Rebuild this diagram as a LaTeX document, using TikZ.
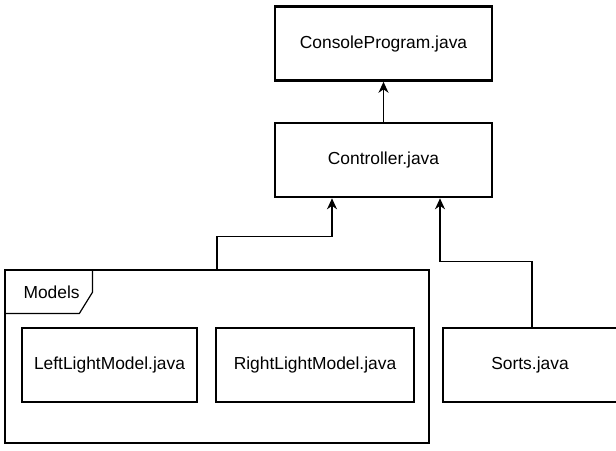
\documentclass[tikz,border=0pt]{standalone}
\usepackage{fontspec}
\setmainfont{Liberation Sans}
\usetikzlibrary{arrows.meta}
\begin{document}
\begin{tikzpicture}[x=1pt,y=-1pt,
  cls/.style={draw,line width=2.6pt,minimum height=74pt,inner sep=0pt,font=\fontsize{17.4}{20}\selectfont},
  arr/.style={line width=1.3pt,-{Stealth[length=11pt,width=10pt,inset=3.5pt]}},
  pkg/.style={draw,line width=1.2pt,inner sep=0pt}]
\useasboundingbox (0,0) rectangle (616,450);
\node[cls,minimum width=217pt] (console) at (383.5,43.5) {ConsoleProgram.java};
\node[cls,minimum width=217pt] (ctrl) at (383.5,160) {Controller.java};
\node[pkg,minimum width=424pt,minimum height=173pt] (models) at (217,356.5) {};
\draw[line width=1.2pt] (models.north west) ++(88,0) -- ++(0,23) -- ++(-13,21) -- ++(-75,0);
\node[anchor=west,font=\fontsize{17.4}{20}\selectfont] (mlabel) at (20,292) {Models};
\node[cls,minimum width=175pt] (left) at (109.5,365) {LeftLightModel.java};
\node[cls,minimum width=198pt] (right) at (315,365) {RightLightModel.java};
\node[cls,minimum width=174pt] (sorts) at (530,365) {Sorts.java};
\draw[arr] (ctrl.north) -- (console.south);
\draw[arr] (models.north) -- ++(0,-33) -| ([xshift=-51.5pt]ctrl.south);
\draw[arr] ([xshift=2pt]sorts.north) -- ++(0,-65) -| ([xshift=56.5pt]ctrl.south);
\end{tikzpicture}
\end{document}
